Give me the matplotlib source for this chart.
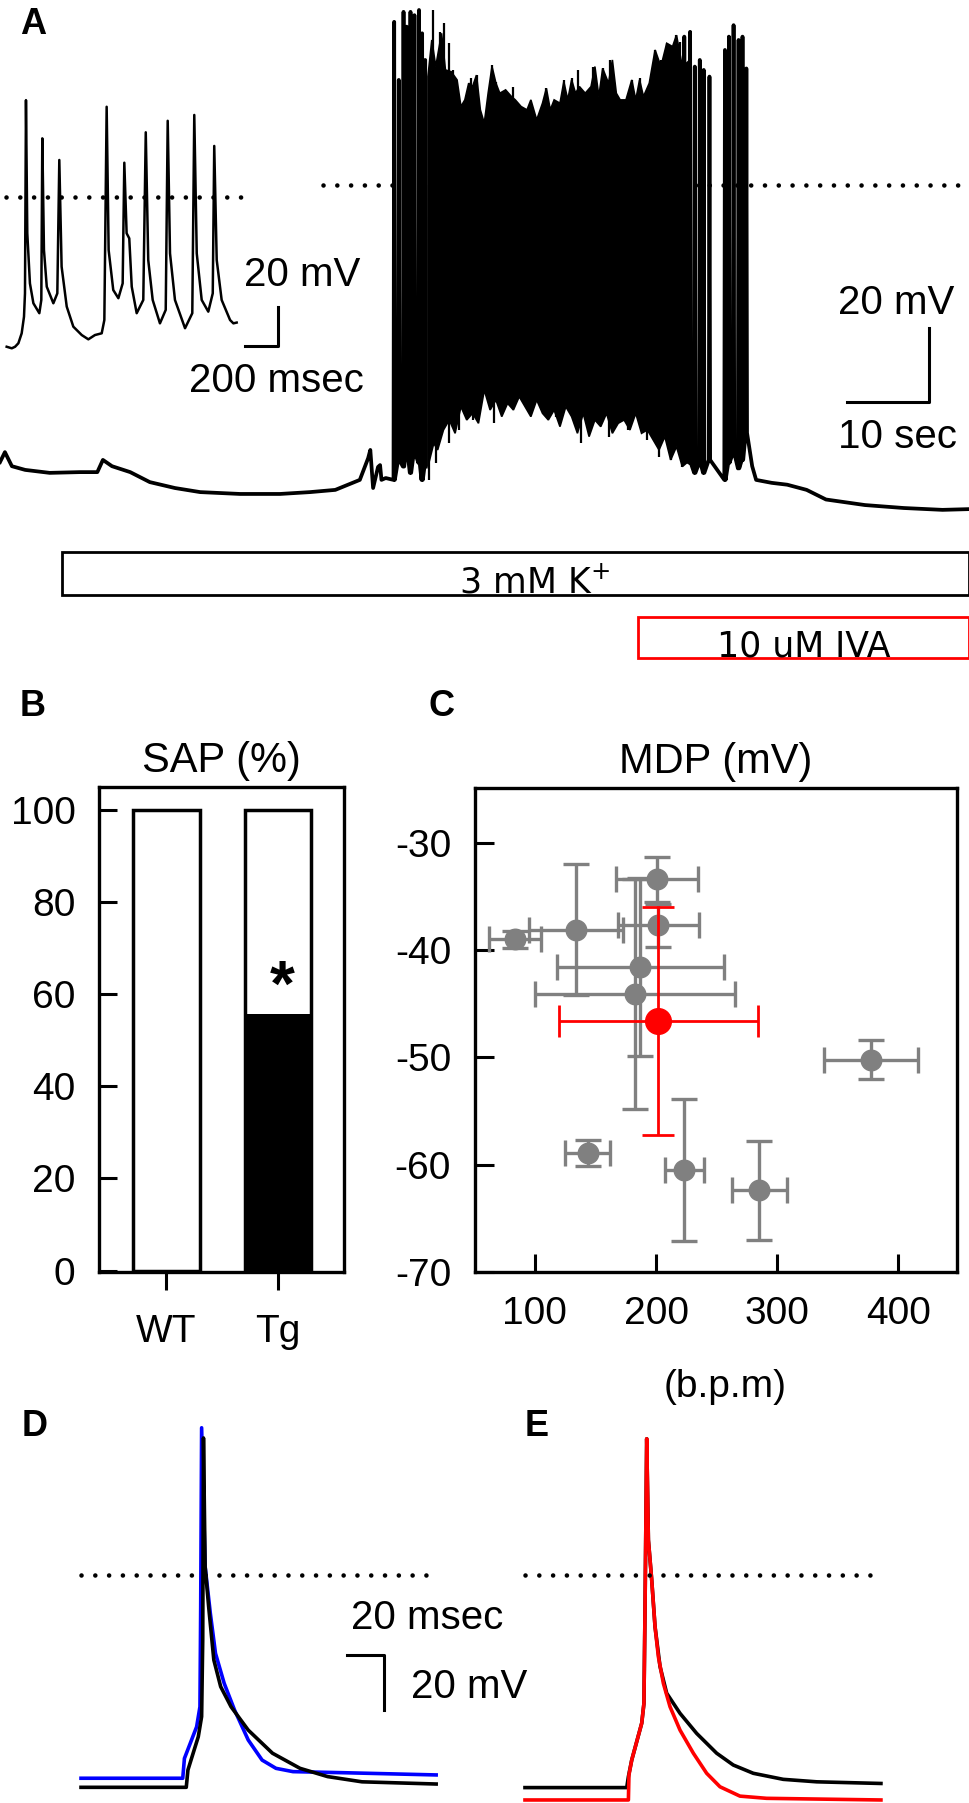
import matplotlib.pyplot as plt

plt.rcParams['font.family'] = ['Liberation Sans', 'DejaVu Sans']
plt.rcParams['axes.unicode_minus'] = False

W, H = 969, 1803

# ---------------- A: long recording (s, mV; dotted line = 0 mV) ----------------
pre_t = [0, 0.6, 1.45, 3.07, 6.06, 9.73, 11.87, 12.55, 13.66, 15.88, 18.27, 21.34,
         24.41, 29.28, 34.15, 37.82, 40.89, 43.88, 44.90, 45.16, 45.5, 46.1, 46.35,
         46.52, 47.04]
pre_v = [-74.9, -72.2, -76.0, -77.0, -77.8, -77.6, -77.6, -74.3, -76.0, -77.6, -80.3,
         -81.9, -83.0, -83.5, -83.5, -83.0, -82.4, -79.7, -73.8, -71.6, -81.9, -76.2,
         -75.7, -79.7, -79.2]

left_spk_t = [48.07, 48.63, 49.21, 49.59, 50.06, 50.54, 51.10, 51.48, 51.85]
left_spk_peak = [44.1, 28.4, 46.8, 42.8, 46.8, 45.9, 47.3, 41.0, 33.8]
left_spk_trough = [-79.7, -74.3, -76.1, -71.6, -77.8, -72.4, -75.1, -79.7, -76.1]

# envelope of the dense firing period
core_top_t = [52.19, 52.66, 53.14, 53.85, 54.32, 55.03, 55.74, 56.21, 56.69, 57.16,
              57.63, 58.11, 58.58, 59.06, 59.53, 60.00, 60.48, 60.95, 61.66, 62.37,
              62.84, 63.55, 64.27, 64.74, 65.45, 66.16, 66.63, 67.11, 67.58, 68.29,
              68.76, 69.24, 69.71, 70.19, 70.66, 71.37, 72.08, 72.55, 73.03, 73.50,
              74.21, 74.68, 75.16, 75.63, 76.34, 77.05, 77.53, 78.00, 78.47, 79.18,
              79.89, 80.60, 81.31, 82.02, 82.50, 83.21, 84.16]
core_top_v = [29.3, 39.2, 32.0, 41.0, 31.1, 30.6, 28.4, 21.2, 23.0, 27.5, 26.6, 29.7,
              20.3, 16.7, 24.8, 32.0, 27.5, 24.8, 25.7, 23.9, 23.0, 21.2, 20.3, 23.0,
              17.6, 22.1, 26.1, 20.3, 23.0, 22.1, 27.9, 23.0, 28.4, 24.8, 26.6, 24.8,
              26.6, 32.0, 23.9, 31.5, 27.5, 33.8, 24.8, 23.0, 23.0, 28.4, 23.0, 28.4,
              23.9, 27.5, 36.5, 32.0, 38.3, 37.4, 40.5, 32.0, 33.8]
core_bot_t = [52.19, 52.90, 53.37, 54.08, 54.79, 55.50, 56.21, 56.92, 57.63, 58.35,
              59.06, 59.77, 60.48, 61.19, 61.90, 62.61, 63.32, 64.03, 64.74, 65.45,
              66.16, 66.87, 67.58, 68.29, 69.00, 69.71, 70.42, 71.13, 71.84, 72.55,
              73.26, 73.97, 74.68, 75.39, 76.11, 76.82, 77.53, 78.24, 78.95, 79.66,
              80.37, 81.08, 81.79, 82.50, 83.21, 84.16]
core_bot_v = [-76.1, -69.8, -71.6, -66.2, -63.5, -67.1, -59.9, -63.5, -61.7, -64.4,
              -55.4, -60.8, -58.1, -62.6, -59.0, -60.8, -57.2, -59.9, -62.6, -58.1,
              -61.7, -63.5, -60.8, -65.3, -59.9, -62.6, -67.1, -61.7, -68.0, -63.5,
              -65.3, -61.7, -67.1, -64.4, -63.5, -66.2, -61.7, -67.1, -66.2, -68.9,
              -71.6, -68.0, -74.3, -70.7, -76.1, -74.3]

core_spk_t = [52.43, 52.80, 53.61, 54.09, 54.79, 55.27, 57.40, 58.11, 60.00, 60.48,
              62.61, 66.63, 68.77, 69.72, 70.43, 72.32, 73.50, 74.45, 77.05, 78.00,
              79.89, 80.60, 81.32, 82.02, 82.50, 82.98]
core_spk_peak = [28.8, 47.3, 41.4, 43.7, 38.3, 31.1, 28.8, 29.7, 32.4, 27.9, 26.6, 26.1,
                 28.4, 28.8, 31.1, 32.0, 31.5, 33.8, 28.4, 28.8, 36.5, 33.8, 38.3, 37.4,
                 40.5, 38.7]
core_dip_t = [52.33, 53.13, 54.79, 55.98, 57.63, 60.24, 64.74, 67.82, 70.90, 74.21,
              76.59, 78.95, 80.37, 81.79, 83.21]
core_dip_v = [-79.7, -75.2, -69.8, -66.2, -63.5, -64.4, -61.7, -62.6, -69.8, -68.0,
              -66.2, -68.9, -73.4, -74.3, -76.1]

right_spk_t = [83.45, 84.16, 84.73, 85.34, 85.82, 86.52, 88.41, 88.89, 89.46, 90.07,
               90.55, 91.02]
right_spk_peak = [40.1, 41.4, 32.0, 33.8, 31.1, 29.3, 36.5, 40.1, 43.2, 39.2, 40.1, 31.5]
right_spk_trough = [-74.3, -75.1, -77.8, -75.1, -77.8, -74.3, -79.7, -75.1, -72.4,
                    -76.6, -74.3, -67.0]

post_t = [91.73, 92.21, 94.11, 96.00, 98.37, 100.73, 105.48, 110.21, 114.94, 118.16]
post_v = [-76.0, -79.7, -80.5, -81.0, -82.4, -85.0, -86.5, -87.3, -87.8, -87.6]

# inset (ms, mV)
inset_t = [4, 35, 55, 75, 95, 109, 115, 121, 129, 145, 166, 202, 214, 220, 230, 247,
           287, 311, 323, 337, 368, 408, 459, 499, 539, 580, 596, 610, 622, 650, 681,
           707, 717, 731, 747, 762, 792, 832, 847, 862, 889, 933, 968, 980, 994, 1024,
           1085, 1129, 1141, 1156, 1186, 1226, 1253, 1262, 1277, 1307, 1358, 1378, 1398]
inset_v = [-76.8, -77.6, -76.8, -75.0, -69.9, -61.4, -49.4, 49.7, -18.6, -44.3, -54.5,
           -59.6, -52.8, 30.1, -27.2, -46.0, -54.5, -49.4, 19.0, -35.7, -56.2, -66.5,
           -70.8, -73.0, -70.8, -69.9, -63.1, 46.3, -27.2, -47.7, -51.9, -44.3, 17.6,
           -18.6, -21.2, -46.0, -59.6, -52.8, 33.2, -32.3, -52.8, -64.8, -57.9, 39.1,
           -28.9, -52.8, -67.3, -59.6, 42.1, -28.9, -52.8, -58.8, -49.4, 26.2, -32.3,
           -52.8, -63.1, -64.8, -64.4]

k_on, k_off = 7.56, 118.2
iva_on, iva_off = 77.8, 118.2

# ---------------- B ----------------
groups = ['WT', 'Tg']
sap_total = [100, 100]
sap_spont = [0, 55.7]

# ---------------- C ----------------
rate = [84.0, 133.7, 200.9, 201.8, 187.0, 182.6, 377.3, 143.6, 223.5, 285.4]
rate_err = [21.5, 38.7, 33.6, 33.5, 68.9, 82.8, 38.7, 18.5, 15.8, 22.4]
mdp = [-39.0, -38.1, -33.4, -37.7, -41.6, -44.1, -50.2, -58.9, -60.5, -62.4]
mdp_err = [0.8, 6.1, 2.1, 2.0, 8.3, 10.7, 1.8, 1.2, 6.6, 4.6]
mean_rate, mean_rate_err = 201.8, 82.2
mean_mdp, mean_mdp_err = -46.6, 10.6

# ---------------- D / E (ms, mV) ----------------
d_blue_t = [0, 55.0, 55.9, 62.5, 64.3, 64.7, 65.2, 67.1, 69.9, 72.7, 77.4, 83.0, 90.4,
            97.9, 105.4, 114.6, 142.6, 192.0]
d_blue_v = [-73.9, -73.9, -66.7, -55.2, -47.9, -11.5, 53.5, 3.0, -13.9, -28.5, -39.4,
            -49.1, -60.0, -67.3, -70.3, -71.5, -71.9, -72.7]
d_black_t = [0, 56.9, 57.8, 63.4, 65.2, 65.8, 66.2, 67.1, 69.0, 71.8, 75.5, 81.1, 90.4,
             103.5, 118.4, 133.3, 151.9, 192.0]
d_black_v = [-77.2, -77.2, -70.9, -58.8, -51.5, -23.6, 49.8, 3.0, -11.5, -30.9, -40.6,
             -47.9, -56.4, -64.8, -70.3, -73.3, -75.2, -76.0]
e_black_t = [0, 55.0, 55.9, 57.7, 63.1, 64.3, 64.9, 65.8, 66.7, 68.5, 70.3, 73.0, 76.6,
             83.8, 92.8, 103.6, 112.6, 123.4, 139.6, 157.7, 192.4]
e_black_v = [-77.3, -77.3, -73.3, -67.3, -53.9, -46.7, -11.5, 49.5, 12.7, -1.8, -18.8,
             -33.3, -43.0, -50.3, -57.6, -64.8, -69.1, -72.1, -74.3, -75.2, -75.8]
e_red_t = [0, 55.9, 56.2, 57.7, 63.1, 64.3, 64.9, 65.8, 66.7, 68.5, 70.3, 72.1, 74.8,
           78.4, 83.8, 91.0, 98.2, 105.4, 116.2, 130.6, 192.4]
e_red_v = [-81.8, -81.8, -72.7, -67.3, -53.9, -46.7, -11.5, 49.5, 12.7, -1.8, -18.8,
           -29.7, -39.4, -47.9, -56.4, -64.8, -72.1, -77.0, -80.4, -81.2, -81.8]

DOT = dict(color='k', lw=3.3, linestyle=(0, (0.01, 3.0)), dash_capstyle='round')


def spike_path(ts, peaks, troughs):
    xs, ys = [], []
    for t, pk, tr in zip(ts, peaks, troughs):
        xs += [t - 0.08, t, t + 0.08]
        ys += [tr, pk, tr]
    return xs, ys


def px_axes(x0, y0, x1, y1):
    a = fig.add_axes([x0 / W, 1 - y1 / H, (x1 - x0) / W, (y1 - y0) / H])
    a.set_facecolor('none')
    return a


fig = plt.figure(figsize=(W / 100, H / 100), dpi=100)

# ---- A main trace (10 s = 82 px, 20 mV = 74 px)
ax_a = px_axes(0, 0, 969, 520)
ax_a.set_xlim(0, 969 / 8.2)
ax_a.set_ylim(-90.54, 50)
ax_a.axis('off')
lx, ly = spike_path(left_spk_t, left_spk_peak, left_spk_trough)
ax_a.plot(pre_t + lx, pre_v + ly, color='k', lw=2.7, solid_joinstyle='round')
ax_a.fill(core_top_t + core_bot_t[::-1], core_top_v + core_bot_v[::-1],
          color='k', lw=1.2)
ax_a.vlines(core_spk_t, 0, core_spk_peak, color='k', lw=1.6)
ax_a.vlines(core_dip_t, core_dip_v, 0, color='k', lw=1.6)
rx, ry = spike_path(right_spk_t, right_spk_peak, right_spk_trough)
ax_a.plot(rx + post_t, ry + post_v, color='k', lw=2.7, solid_joinstyle='round')
ax_a.plot([39.4, 118.2], [0, 0], **DOT)
ax_a.plot([103.3, 113.3, 113.3], [-58.6, -58.6, -38.6], color='k', lw=2.2)
ax_a.text(109.3, -31.9, '20 mV', ha='center', va='center', fontsize=29)
ax_a.text(109.5, -68.1, '10 sec', ha='center', va='center', fontsize=29)

# ---- A inset
ax_in = px_axes(0, 90, 300, 360)
ax_in.set_xlim(-36.4, 1781.8)
ax_in.set_ylim(-83.6, 54.9)
ax_in.axis('off')
ax_in.plot(inset_t, inset_v, color='k', lw=1.8, solid_joinstyle='round')
ax_in.plot([0, 1448], [0, 0], **DOT)
ax_in.plot([1448, 1648, 1648], [-76.4, -76.4, -56.4], color='k', lw=2.2)
ax_in.text(1794, -40, '20 mV', ha='center', va='center', fontsize=29)
ax_in.text(1636, -94.4, '200 msec', ha='center', va='center', fontsize=29)

# ---- application bars
ax_bar = px_axes(0, 530, 969, 680)
ax_bar.set_xlim(0, 969 / 8.2)
ax_bar.set_ylim(0, 1)
ax_bar.axis('off')
ax_bar.barh(0.71, k_off - k_on, left=k_on, height=0.29, color='white',
            edgecolor='k', lw=2)
ax_bar.barh(0.283, iva_off - iva_on, left=iva_on, height=0.273, color='white',
            edgecolor='red', lw=2)
ax_bar.text(65.2, 0.58, '3 mM K$^{+}$', ha='center', va='baseline',
            fontsize=25, family='DejaVu Sans')
ax_bar.text((iva_on + iva_off) / 2, 0.155, '10 uM IVA', ha='center', va='baseline',
            fontsize=25, family='DejaVu Sans')

# ---- B
axB = px_axes(99, 787, 344, 1272)
xb = range(len(groups))
axB.bar(xb, sap_total, width=0.6, color='white', edgecolor='k', lw=2.5)
axB.bar(xb, sap_spont, width=0.6, color='k', lw=0)
axB.set_xlim(-0.605, 1.592)
axB.set_ylim(-0.3, 104.9)
axB.set_yticks([0, 20, 40, 60, 80, 100])
axB.set_xticks(list(xb))
axB.set_xticklabels(groups)
axB.tick_params(axis='y', direction='in', length=13, width=2.2, pad=17, labelsize=28)
axB.tick_params(axis='x', direction='out', length=13, width=2.2, pad=17, labelsize=28)
for s in axB.spines.values():
    s.set_linewidth(2.4)
axB.text(1.036, 57.4, '*', ha='center', va='baseline', fontsize=46, fontweight='bold')
axB.text(0.5, 1.031, 'SAP (%)', transform=axB.transAxes, ha='center',
         va='baseline', fontsize=30)

# ---- C
axC = px_axes(474.7, 788, 957.4, 1272)
axC.errorbar(rate, mdp, xerr=rate_err, yerr=mdp_err, fmt='o', color='#808080',
             ms=14.8, elinewidth=2.4, capsize=9.5, capthick=2.4, zorder=2)
axC.errorbar([mean_rate], [mean_mdp], xerr=[mean_rate_err], yerr=[mean_mdp_err],
             fmt='o', color='red', ms=18.5, elinewidth=2, capsize=11.5, capthick=2,
             zorder=3)
axC.set_xlim(50.4, 448.7)
axC.set_ylim(-70, -24.9)
axC.set_xticks([100, 200, 300, 400])
axC.set_yticks([-70, -60, -50, -40, -30])
axC.tick_params(axis='y', direction='in', length=14, width=2.2, pad=17, labelsize=28)
axC.tick_params(axis='x', direction='in', length=13, width=2.2, pad=17, labelsize=28)
for s in axC.spines.values():
    s.set_linewidth(2.4)
axC.text(0.5, 1.031, 'MDP (mV)', transform=axC.transAxes, ha='center',
         va='baseline', fontsize=30)
fig.text(725 / W, 1 - 1387 / H, '(b.p.m)', ha='center', va='center', fontsize=28)

# ---- D
axD = px_axes(0, 1400, 480, 1803)
axD.set_xlim(-43.8, 215.7)
axD.set_ylim(-82.9, 63.6)
axD.axis('off')
axD.plot(d_blue_t, d_blue_v, color='#0000ff', lw=2.6, solid_joinstyle='round', clip_on=False)
axD.plot(d_black_t, d_black_v, color='k', lw=2.6, solid_joinstyle='round', clip_on=False)
axD.plot([0, 190.3], [0, 0], **DOT)
axD.plot([143.7, 163.7, 163.7], [-29.1, -29.1, -49.1], color='k', lw=2.2)
axD.text(187.0, -15.5, '20 msec', ha='center', va='center', fontsize=29)
axD.text(209.7, -40.7, '20 mV', ha='center', va='center', fontsize=29)

# ---- E
axE = px_axes(500, 1400, 969, 1803)
axE.set_xlim(-13.5, 240)
axE.set_ylim(-82.9, 63.6)
axE.axis('off')
axE.plot(e_black_t, e_black_v, color='k', lw=2.6, solid_joinstyle='round', clip_on=False)
axE.plot(e_red_t, e_red_v, color='red', lw=2.6, solid_joinstyle='round', clip_on=False)
axE.plot([0, 189.7], [0, 0], **DOT)

# panel letters
for lab, x, y in [('A', 33, 25), ('B', 33, 707), ('C', 442, 707),
                  ('D', 35, 1427), ('E', 537, 1427)]:
    fig.text(x / W, 1 - y / H, lab, ha='center', va='center', fontsize=26,
             fontweight='bold')

fig.savefig('out.png', dpi=100)
